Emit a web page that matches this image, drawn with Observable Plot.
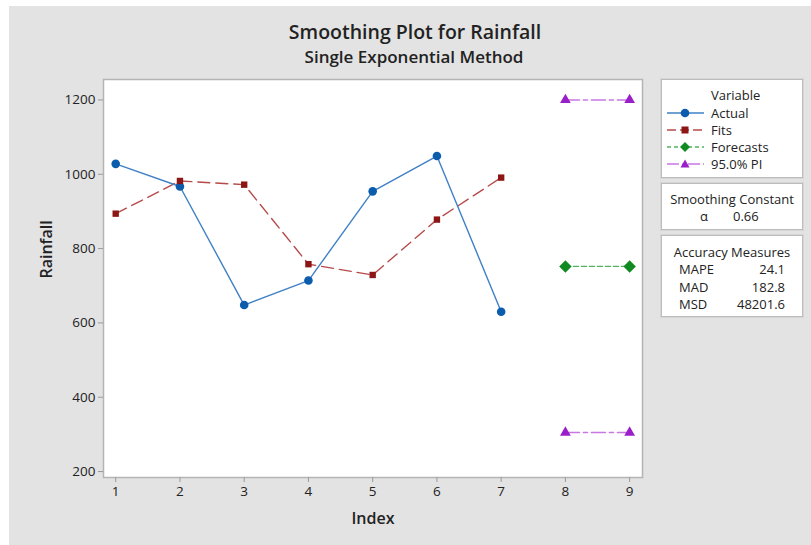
<!DOCTYPE html>
<html>
<head>
<meta charset="utf-8">
<script src="https://cdn.jsdelivr.net/npm/d3@7"></script>
<script src="https://cdn.jsdelivr.net/npm/@observablehq/plot@0.6"></script>
<style>
  html, body { margin: 0; padding: 0; background: #ffffff; }
  #wrap { position: relative; width: 811px; height: 545px; overflow: hidden; font-family: "Open Sans", "Noto Sans", sans-serif; color: #222; }
  #bg { position: absolute; left: 9px; top: 6px; width: 802px; height: 539px; background: #e3e3e3; }
  #title { position: absolute; left: 0; width: 830px; top: 18px; text-align: center; font-size: 19.5px; font-weight: 600; color: #222; }
  #subtitle { position: absolute; left: 0; width: 828px; top: 45px; text-align: center; font-size: 17px; font-weight: 600; color: #222; }
  #chart { position: absolute; left: 0; top: 0; }
  .box { position: absolute; left: 661px; width: 140px; background: #fff; border: 1px solid #bcbcbc; box-shadow: 0 0 0 1px #d6d6d6; font-size: 13px; line-height: 16px; color: #222; }
  .row { position: absolute; left: 0; height: 16px; line-height: 16px; }
  .row svg { position: absolute; left: 0; top: 0; }
  .row span { position: absolute; left: 49px; white-space: nowrap; }
</style>
</head>
<body>
<div id="wrap">
  <div id="bg"></div>
  <div id="chart"></div>
  <div id="title">Smoothing Plot for Rainfall</div>
  <div id="subtitle">Single Exponential Method</div>
</div>
<script>
// ---- data ----
const index = [1, 2, 3, 4, 5, 6, 7];
const actual = [1028, 967, 648, 714, 954, 1049, 630];
const fits = [894, 982, 972, 758, 729, 878, 991];
const forecastIndex = [8, 9];
const forecasts = [752, 752];
const upperPI = [1200, 1200];
const lowerPI = [305, 305];
const xTicks = [1, 2, 3, 4, 5, 6, 7, 8, 9];
const yTicks = [200, 400, 600, 800, 1000, 1200];
const alphaValue = "0.66";
const accuracyNames = ["MAPE", "MAD", "MSD"];
const accuracyValues = ["24.1", "182.8", "48201.6"];
const seriesNames = ["Actual", "Fits", "Forecasts", "95.0% PI"];

// ---- styles ----
const C = {
  actualDot: "#0b5cad", actualLine: "#3f80c6",
  fitsDot: "#8c1515", fitsLine: "#b64a4a",
  fcDot: "#128a22", fcLine: "#4fb45c",
  piDot: "#9a1fc9", piLine: "#c877e3"
};

const actualData = index.map((i, k) => ({x: i, y: actual[k]}));
const fitsData = index.map((i, k) => ({x: i, y: fits[k]}));
const fcData = forecastIndex.map((i, k) => ({x: i, y: forecasts[k]}));
const piData = [
  ...forecastIndex.map((i, k) => ({x: i, y: upperPI[k], b: "upper"})),
  ...forecastIndex.map((i, k) => ({x: i, y: lowerPI[k], b: "lower"}))
];

const plot = Plot.plot({
  width: 811,
  height: 545,
  marginLeft: 103,
  marginTop: 79,
  marginRight: 169,
  marginBottom: 68,
  style: {background: "transparent", fontFamily: "'Open Sans', 'Noto Sans', sans-serif", fontSize: "13.5px", color: "#222"},
  x: {domain: [0.81, 9.2], label: null},
  y: {domain: [184, 1255], label: null},
  marks: [
    Plot.frame({fill: "white", stroke: "#b4b4b4", strokeWidth: 1.5}),
    Plot.axisX({ticks: xTicks, tickFormat: d => String(d), tickSize: 5, tickPadding: 4, stroke: "#999", fill: "#222", fontSize: 13.5, label: null}),
    Plot.axisY({ticks: yTicks, tickFormat: d => String(d), tickSize: 5, tickPadding: 3, stroke: "#999", fill: "#222", fontSize: 13.5, label: null}),
    Plot.line(fitsData, {x: "x", y: "y", stroke: C.fitsLine, strokeWidth: 1.4, strokeDasharray: "12,6"}),
    Plot.line(actualData, {x: "x", y: "y", stroke: C.actualLine, strokeWidth: 1.4}),
    Plot.line(fcData, {x: "x", y: "y", stroke: C.fcLine, strokeWidth: 1.4, strokeDasharray: "5,3"}),
    Plot.line(piData, {x: "x", y: "y", z: "b", stroke: C.piLine, strokeWidth: 1.6, strokeDasharray: "14,4,4,4"}),
    Plot.dot(actualData, {x: "x", y: "y", r: 4.3, fill: C.actualDot, symbol: "circle"}),
    Plot.dot(fitsData, {x: "x", y: "y", r: 3.6, fill: C.fitsDot, symbol: "square"}),
    Plot.dot(fcData, {x: "x", y: "y", r: 5.6, fill: C.fcDot, symbol: "diamond2"}),
    Plot.dot(piData, {x: "x", y: "y", r: 4.0, fill: C.piDot, symbol: "triangle"}),
    Plot.text(["Rainfall"], {frameAnchor: "left", dx: -57, rotate: -90, fontSize: 16, fontWeight: 600, fill: "#222"}),
    Plot.text(["Index"], {frameAnchor: "bottom", dy: 46, fontSize: 16, fontWeight: 600, fill: "#222"})
  ]
});
document.getElementById("chart").appendChild(plot);

// ---- legend boxes (HTML) ----
const wrap = document.getElementById("wrap");
function box(top, height) {
  const d = document.createElement("div");
  d.className = "box";
  d.style.top = top + "px";
  d.style.height = height + "px";
  wrap.appendChild(d);
  return d;
}
const lg = box(79, 97);
lg.innerHTML = `<div style="position:absolute;left:49px;top:7px;">Variable</div>`;
const swatches = [
  {line: C.actualLine, dash: "", dot: C.actualDot, shape: "circle"},
  {line: C.fitsLine, dash: "9,4", dot: C.fitsDot, shape: "square"},
  {line: C.fcLine, dash: "4,3", dot: C.fcDot, shape: "diamond"},
  {line: C.piLine, dash: "12,3,3,3", dot: C.piDot, shape: "triangle"}
];
seriesNames.forEach((name, k) => {
  const s = swatches[k];
  let sym = "";
  if (s.shape === "circle") sym = `<circle cx="23" cy="8" r="4.3" fill="${s.dot}"/>`;
  if (s.shape === "square") sym = `<rect x="19.5" y="4.5" width="7" height="7" fill="${s.dot}"/>`;
  if (s.shape === "diamond") sym = `<path d="M23 3 L28 8 L23 13 L18 8Z" fill="${s.dot}"/>`;
  if (s.shape === "triangle") sym = `<path d="M23 3.5 L27.5 11.5 L18.5 11.5Z" fill="${s.dot}"/>`;
  const r = document.createElement("div");
  r.className = "row";
  r.style.top = (24.5 + k * 17.3) + "px";
  r.innerHTML = `<svg width="48" height="16"><line x1="5" x2="42" y1="8" y2="8" stroke="${s.line}" stroke-width="1.5" ${s.dash ? `stroke-dasharray="${s.dash}"` : ""}/>${sym}</svg><span>${name}</span>`;
  lg.appendChild(r);
});

const sm = box(183, 45);
sm.innerHTML = `<div style="position:absolute;left:0;width:140px;top:7px;text-align:center;">Smoothing Constant</div>
<div style="position:absolute;left:38px;top:24px;">α</div><div style="position:absolute;left:71px;top:24px;">${alphaValue}</div>`;

const ac = box(235, 80);
let html = `<div style="position:absolute;left:0;width:140px;top:8px;text-align:center;">Accuracy Measures</div>`;
accuracyNames.forEach((n, k) => {
  html += `<div style="position:absolute;left:17px;top:${25 + k * 17.5}px;">${n}</div><div style="position:absolute;right:17px;top:${25 + k * 17.5}px;">${accuracyValues[k]}</div>`;
});
ac.innerHTML = html;
</script>
</body>
</html>
